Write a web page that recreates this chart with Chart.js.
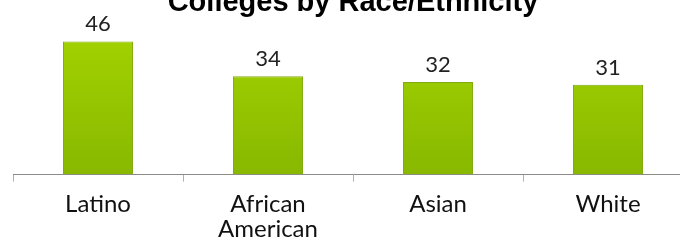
<!DOCTYPE html>
<html>
<head>
<meta charset="utf-8">
<script src="https://cdn.jsdelivr.net/npm/chart.js@4"></script>
<style>
  html, body { margin: 0; padding: 0; background: #fff; overflow: hidden; }
  body { width: 680px; height: 242px; position: relative; }
  #wrap { position: absolute; left: 0; top: -14px; width: 706px; height: 266px; }
</style>
</head>
<body>
<div id="wrap"><canvas id="chart"></canvas></div>
<script>
// data
const categories = [["Latino"], ["African", "American"], ["Asian"], ["White"]];
const values = [46, 34, 32, 31];
const chartTitle = "Colleges by Race/Ethnicity";

// draw the number above each bar
const valueLabels = {
    id: "valueLabels",
    afterDatasetsDraw(chart){
        const ctx = chart.ctx;
        const meta = chart.getDatasetMeta(0);
        ctx.save();
        ctx.font = "22px Lato";
        ctx.fillStyle = "#222";
        ctx.textAlign = "center";
        ctx.textBaseline = "alphabetic";
        meta.data.forEach(function(bar, i){
            ctx.fillText(String(values[i]), bar.x, bar.y - 10);
        });
        ctx.restore();
    }
};

function barFill(context){
    const chart = context.chart;
    const area = chart.chartArea;
    if(!area) return "#96c400";
    const g = chart.ctx.createLinearGradient(0, area.top, 0, area.bottom);
    g.addColorStop(0, "#a3d300");
    g.addColorStop(1, "#88b800");
    return g;
}

const ctx = document.getElementById("chart").getContext("2d");
new Chart(ctx, {
    type: "bar",
    data: {
        labels: categories,
        datasets: [{
            data: values,
            backgroundColor: barFill,
            borderColor: "#82ab12",
            borderWidth: 1,
            categoryPercentage: 1,
            barPercentage: 0.412
        }]
    },
    options: {
        responsive: true,
        maintainAspectRatio: false,
        animation: false,
        layout: { padding: { left: 13, right: 13, top: 0, bottom: 0 } },
        plugins: {
            legend: { display: false },
            tooltip: { enabled: false },
            title: {
                display: true,
                text: chartTitle,
                color: "#000",
                font: { family: "'Liberation Sans', Arial, sans-serif", size: 29, weight: "bold", lineHeight: 1.2 },
                padding: { top: 0, bottom: 9 }
            }
        },
        scales: {
            y: {
                display: false,
                min: 0,
                max: 50
            },
            x: {
                border: { display: true, color: "#8a8a8a", width: 1 },
                grid: {
                    display: true,
                    drawOnChartArea: false,
                    drawTicks: true,
                    tickLength: 7,
                    color: "#b0b0b0",
                    offset: true
                },
                ticks: {
                    color: "#111",
                    padding: 10,
                    maxRotation: 0,
                    autoSkip: false,
                    font: { family: "Lato", size: 24, lineHeight: 1.05 }
                }
            }
        }
    },
    plugins: [valueLabels]
});
</script>
</body>
</html>
